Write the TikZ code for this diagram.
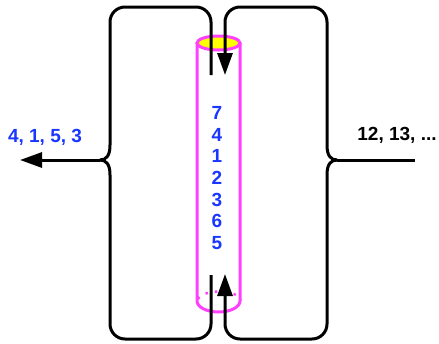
\documentclass[tikz,border=0pt]{standalone}
\usepackage{fontspec}
\setmainfont{Liberation Sans}
\usetikzlibrary{arrows.meta}
\definecolor{listColor}{RGB}{25,55,255}
\definecolor{tubeColor}{RGB}{255,64,255}
\definecolor{capColor}{RGB}{255,255,0}
\tikzset{bracket/.style={draw, line width=3pt}}
\tikzset{tube/.style={draw=tubeColor, line width=3pt}}
\tikzset{numbers/.style={font=\bfseries\fontsize{19}{21.7}\selectfont, inner sep=0pt, align=center}}
\tikzstyle{arrow} = [-{Triangle[length=22pt,width=15pt]}]

\begin{document}
\begin{tikzpicture}[x=1pt, y=-1pt]
	\useasboundingbox (0,0) rectangle (439,343);

	% Nodes
	\node (outlist) [numbers, text=listColor] at (45,137) {4, 1, 5, 3};
	\node (inlist) [numbers] at (397,135) {12, 13, ...};
	\node (queue) [numbers, text=listColor] at (217,178) {7\\4\\1\\2\\3\\6\\5};

	\coordinate (lcusp) at (100,160);
	\coordinate (rcusp) at (337,160);
	\coordinate (exit) at (20,160);
	\coordinate (entry) at (415,160);
	\coordinate (lefttop) at (211,75);
	\coordinate (leftbottom) at (211,275);
	\coordinate (righttop) at (225,75);
	\coordinate (rightbottom) at (225,274);

	% Tube
	\draw [tube] (197,43) -- (197,301) arc (180:360:21.5pt and 11pt) -- (240,43);
	\draw [tube, line width=2.5pt, dash pattern=on 2.5pt off 7pt] (198,299) arc (170:0:21.5pt and 9pt);
	\draw [tube, fill=capColor] (218.5,43) ellipse (21.5pt and 7pt);

	% Connectors
	\draw [bracket] (lcusp) .. controls (106,160) and (110,156) .. (110,145) [rounded corners=15pt] -- (110,7) -- (211,7) -- (lefttop);
	\draw [bracket] (lcusp) .. controls (106,160) and (110,164) .. (110,175) [rounded corners=15pt] -- (110,339) -- (211,339) -- (leftbottom);
	\draw [bracket, arrow] (rcusp) .. controls (331,160) and (327,156) .. (327,145) [rounded corners=15pt] -- (327,7) -- (225,7) -- (righttop);
	\draw [bracket, arrow] (rcusp) .. controls (331,160) and (327,164) .. (327,175) [rounded corners=15pt] -- (327,339) -- (225,339) -- (rightbottom);
	\draw [bracket, arrow] (lcusp) -- (exit);
	\draw [bracket] (rcusp) -- (entry);

\end{tikzpicture}
\end{document}
